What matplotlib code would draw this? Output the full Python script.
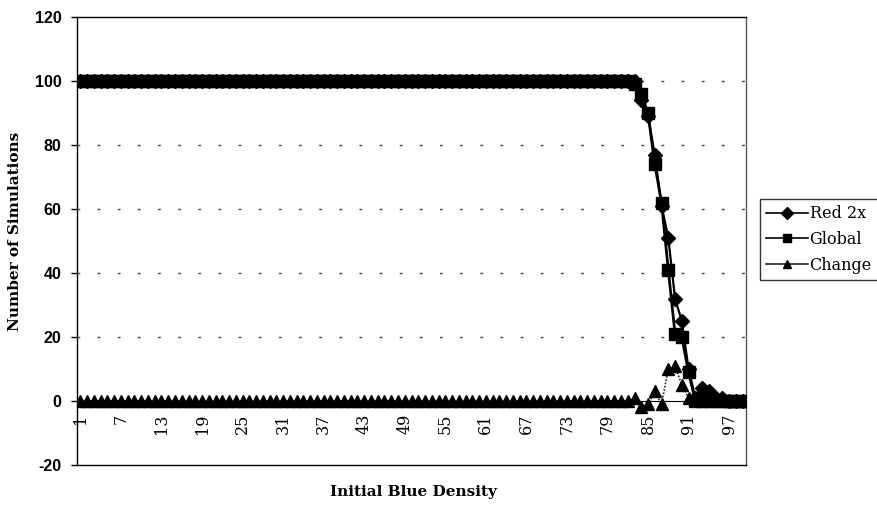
import matplotlib.pyplot as plt
import numpy as np

# Initial blue density categories, 1..99
density = np.arange(1, 100)

red_2x = [100] * 83 + [94, 89, 77, 61, 51, 32, 25, 10, 1, 4, 3, 1, 1, 0, 0, 0]
global_ = [100] * 82 + [99, 96, 90, 74, 62, 41, 21, 20, 9, 0, 0, 0, 0, 0, 0, 0, 0]
change = [0] * 82 + [1, -2, -1, 3, -1, 10, 11, 5, 1, 1, 4, 3, 1, 1, 0, 0, 0]

tick_pos = np.arange(1, 100, 6)
serif = 'DejaVu Serif'
sans = 'Liberation Sans'

fig = plt.figure(figsize=(8.77, 5.09), dpi=100)
ax = fig.add_axes([77 / 877, 1 - 465 / 509, (746 - 77) / 877, (465 - 17) / 509])

# dashed horizontal gridlines
for y in [20, 40, 60, 80, 100]:
    ax.axhline(y, ls=(0, (2, 12.5)), color='#444444', lw=1, zorder=1)

l1, = ax.plot(density, red_2x, color='black', lw=1.6, marker='D', ms=7.5,
              mfc='black', mec='black', zorder=3, label='Red 2x')
l2, = ax.plot(density, global_, color='black', lw=2, marker='s', ms=8,
              mfc='black', mec='black', zorder=4, label='Global')
l3, = ax.plot(density, change, color='#222222', lw=1.2, ls=(0, (1, 1)),
              marker='^', ms=8.5, mfc='black', mec='black', zorder=5,
              label='Change')

ax.set_xlim(0.5, 99.5)
ax.set_ylim(-20, 120)

# category axis crosses at zero
ax.spines['bottom'].set_position(('data', 0))
ax.spines['bottom'].set_linewidth(0.8)
ax.spines['left'].set_linewidth(1)
ax.spines['top'].set_linewidth(1)
ax.spines['right'].set_color('#555555')
ax.spines['right'].set_linewidth(1)
ax.plot([0, 1], [0, 0], transform=ax.transAxes, color='black', lw=1,
        clip_on=False, zorder=6)

ax.set_xticks(tick_pos)
ax.set_xticklabels([str(t) for t in tick_pos], rotation=90, va='top',
                   ha='center', family=serif, fontsize=11.5)
ax.tick_params(axis='x', length=0, pad=9)

ax.set_yticks(range(-20, 121, 20))
ax.set_yticklabels([str(t) for t in range(-20, 121, 20)], family=sans,
                   fontweight='bold', fontsize=11.5)
ax.tick_params(axis='y', direction='out', length=4, width=1, pad=7)

fig.text(413 / 877, 1 - 492 / 509, 'Initial Blue Density', ha='center',
         va='center', family=serif, fontweight='bold', fontsize=11)
fig.text(15 / 877, 1 - 231 / 509, 'Number of Simulations', ha='center',
         va='center', rotation=90, family=serif, fontweight='bold',
         fontsize=11)

leg = fig.legend(handles=[l1, l2, l3], loc='center left',
                 bbox_to_anchor=(760 / 877, 1 - 239.5 / 509),
                 prop={'family': serif, 'size': 11.5}, frameon=True,
                 fancybox=False, edgecolor='black', handlelength=2.6,
                 handletextpad=0.1, borderpad=0.4, labelspacing=0.55,
                 borderaxespad=0, markerscale=0.75)
leg.get_frame().set_linewidth(1)
for h in leg.get_lines():
    h.set_linestyle('-')
    h.set_linewidth(1.2)

fig.savefig('out.png', dpi=100)
